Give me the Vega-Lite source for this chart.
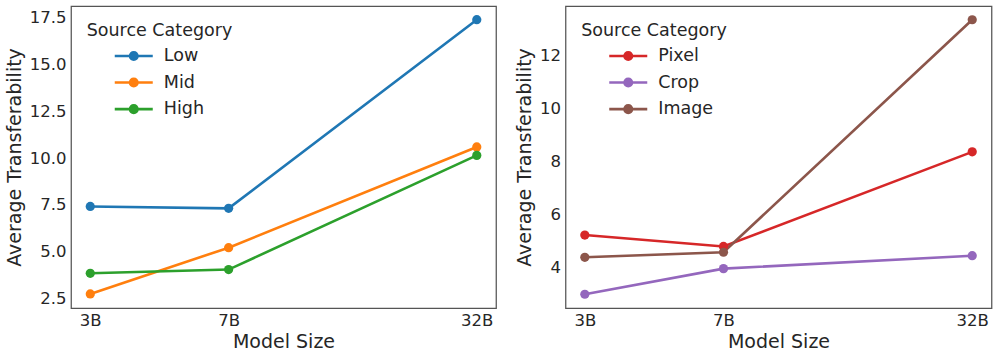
{
  "$schema": "https://vega.github.io/schema/vega-lite/v6.json",
  "padding": {"left": 4, "top": 5, "right": 0, "bottom": 0},
  "autosize": {"type": "pad"},
  "background": "white",
  "spacing": 17.5,
  "config": {
    "font": "DejaVu Sans",
    "view": {"stroke": "#555555", "strokeWidth": 1.25},
    "axis": {
      "grid": false, "ticks": false, "tickSize": 0, "domain": false,
      "labelFont": "DejaVu Sans", "labelFontSize": 16.5, "labelColor": "#262626",
      "titleFont": "DejaVu Sans", "titleFontSize": 19, "titleFontWeight": "normal", "titleColor": "#262626"
    },
    "axisX": {"labelPadding": 4, "titlePadding": 4},
    "axisY": {"labelPadding": 5, "titlePadding": 5},
    "legend": {
      "orient": "none", "legendX": 15.7, "legendY": 15.7, "padding": 0,
      "titleFont": "DejaVu Sans", "titleFontSize": 17.5, "titleFontWeight": "normal", "titleColor": "#262626",
      "labelFont": "DejaVu Sans", "labelFontSize": 17.5, "labelColor": "#262626",
      "symbolType": "M-3.8,0L3.8,0M0.75,0A0.75,0.75,0,1,1,-0.75,0A0.75,0.75,0,1,1,0.75,0Z",
      "symbolSize": 100, "symbolStrokeWidth": 2.6,
      "symbolOffset": 38.3, "labelOffset": 21.3,
      "rowPadding": 7.6, "titlePadding": 8
    }
  },
  "datasets": {
    "left": [
      {"model": "3B", "size": 3, "category": "Low", "value": 7.42},
      {"model": "7B", "size": 7, "category": "Low", "value": 7.32},
      {"model": "32B", "size": 32, "category": "Low", "value": 17.4},
      {"model": "3B", "size": 3, "category": "Mid", "value": 2.75},
      {"model": "7B", "size": 7, "category": "Mid", "value": 5.22},
      {"model": "32B", "size": 32, "category": "Mid", "value": 10.6},
      {"model": "3B", "size": 3, "category": "High", "value": 3.85},
      {"model": "7B", "size": 7, "category": "High", "value": 4.05},
      {"model": "32B", "size": 32, "category": "High", "value": 10.15}
    ],
    "right": [
      {"model": "3B", "size": 3, "category": "Pixel", "value": 5.22},
      {"model": "7B", "size": 7, "category": "Pixel", "value": 4.79},
      {"model": "32B", "size": 32, "category": "Pixel", "value": 8.37},
      {"model": "3B", "size": 3, "category": "Crop", "value": 2.98},
      {"model": "7B", "size": 7, "category": "Crop", "value": 3.95},
      {"model": "32B", "size": 32, "category": "Crop", "value": 4.44},
      {"model": "3B", "size": 3, "category": "Image", "value": 4.38},
      {"model": "7B", "size": 7, "category": "Image", "value": 4.57},
      {"model": "32B", "size": 32, "category": "Image", "value": 13.37}
    ]
  },
  "hconcat": [
    {
      "width": 425, "height": 302,
      "data": {"name": "left"},
      "encoding": {
        "x": {"field": "size", "type": "quantitative", "title": "Model Size",
              "scale": {"type": "log", "domain": [2.666, 36.0], "nice": false, "zero": false},
              "axis": {"values": [3, 7, 32], "labelExpr": "datum.value + 'B'"}},
        "y": {"field": "value", "type": "quantitative", "title": "Average Transferability",
              "scale": {"domain": [1.9965, 18.13], "nice": false, "zero": false},
              "axis": {"values": [2.5, 5, 7.5, 10, 12.5, 15, 17.5], "format": ".1f"}},
        "color": {"field": "category", "type": "nominal", "title": "Source Category",
                  "scale": {"domain": ["Low", "Mid", "High"], "range": ["#1f77b4", "#ff7f0e", "#2ca02c"]},
                  "sort": ["Low", "Mid", "High"]}
      },
      "layer": [
        {"mark": {"type": "line", "strokeWidth": 2.6}},
        {"mark": {"type": "point", "filled": true, "size": 85, "opacity": 1}}
      ]
    },
    {
      "width": 426, "height": 302,
      "data": {"name": "right"},
      "encoding": {
        "x": {"field": "size", "type": "quantitative", "title": "Model Size",
              "scale": {"type": "log", "domain": [2.666, 36.0], "nice": false, "zero": false},
              "axis": {"values": [3, 7, 32], "labelExpr": "datum.value + 'B'"}},
        "y": {"field": "value", "type": "quantitative", "title": "Average Transferability",
              "scale": {"domain": [2.46, 13.89], "nice": false, "zero": false},
              "axis": {"values": [4, 6, 8, 10, 12], "format": "d"}},
        "color": {"field": "category", "type": "nominal", "title": "Source Category",
                  "scale": {"domain": ["Pixel", "Crop", "Image"], "range": ["#d62728", "#9467bd", "#8c564b"]},
                  "sort": ["Pixel", "Crop", "Image"]}
      },
      "layer": [
        {"mark": {"type": "line", "strokeWidth": 2.6}},
        {"mark": {"type": "point", "filled": true, "size": 85, "opacity": 1}}
      ]
    }
  ],
  "resolve": {"scale": {"color": "independent", "x": "independent", "y": "independent"}}
}
